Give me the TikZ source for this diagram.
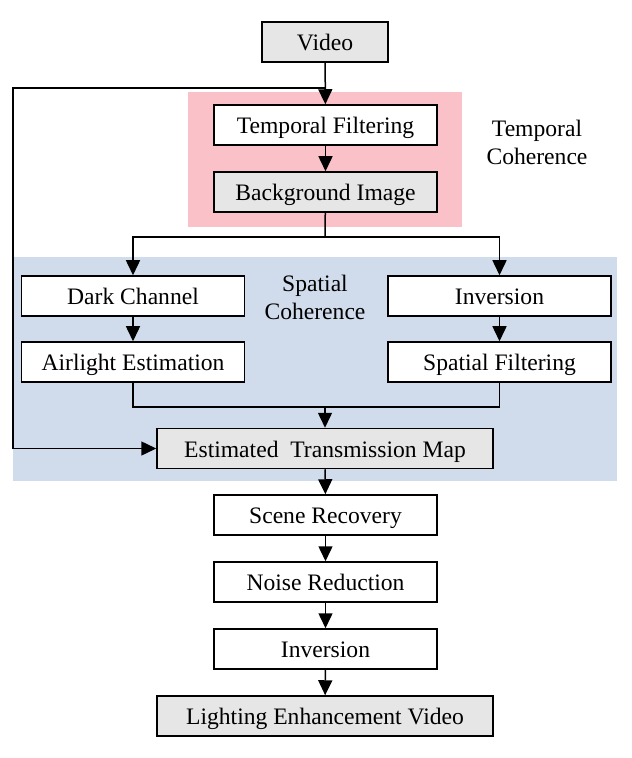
\documentclass[tikz,border=0pt]{standalone}
\usepackage{fontspec}
\setmainfont{Liberation Serif}
\usetikzlibrary{arrows.meta}
\definecolor{boxgray}{RGB}{230,230,230}
\definecolor{tcpink}{RGB}{251,193,201}
\definecolor{scblue}{RGB}{208,219,236}
\tikzset{
  stage/.style={draw, fill=white, line width=0.75pt, minimum width=111.5pt, minimum height=20pt, inner sep=0pt, text height=10.5pt, text depth=2pt, font=\fontsize{11.8}{14}\selectfont},
  widestage/.style={stage, minimum width=168pt},
  shaded/.style={fill=boxgray},
  link/.style={line width=0.75pt},
  flow/.style={link, -{Triangle[length=7.5pt,width=7pt]}},
  regionlabel/.style={align=center, font=\fontsize{11.8}{14}\selectfont}
}
\begin{document}
\begin{tikzpicture}[x=0.5pt, y=-0.5pt]
\useasboundingbox (0,0) rectangle (631,758);

\fill[tcpink] (188,92) rectangle (462,227);
\fill[scblue] (13,257) rectangle (617,481);
\node[regionlabel] (tclabel) at (537,142) {Temporal\\Coherence};
\node[regionlabel] (sclabel) at (315,297) {Spatial\\Coherence};

\node[stage, shaded, minimum width=63pt] (video) at (325,42) {Video};
\node[stage] (tfilter) at (325.5,125) {Temporal Filtering};
\node[stage, shaded] (bgimage) at (325.5,192) {Background Image};

\node[stage] (dark) at (133,296) {Dark Channel};
\node[stage] (airlight) at (133,362) {Airlight Estimation};
\node[stage] (invA) at (499.5,296) {Inversion};
\node[stage] (sfilter) at (499.5,362) {Spatial Filtering};

\node[widestage, shaded] (transmap) at (325,448.5) {Estimated\ \ Transmission Map};
\node[stage] (recovery) at (325.5,515) {Scene Recovery};
\node[stage] (noise) at (325.5,582) {Noise Reduction};
\node[stage] (invB) at (325.5,649) {Inversion};
\node[widestage, shaded] (result) at (325,716) {Lighting Enhancement Video};

\coordinate (split) at (325,88);
\coordinate (branch) at (325,237);
\coordinate (merge) at (325,407);

\draw[flow] (video) -- (tfilter);
\draw[flow] (tfilter) -- (bgimage);
\draw[link] (bgimage) -- (branch);
\draw[flow] (branch) -| (dark);
\draw[flow] (branch) -| (invA);
\draw[flow] (dark) -- (airlight);
\draw[flow] (invA) -- (sfilter);
\draw[link] (airlight) |- (merge);
\draw[link] (sfilter) |- (merge);
\draw[flow] (merge) -- (transmap);
\draw[flow] (split) -- (13,88) |- (transmap);
\draw[flow] (transmap) -- (recovery);
\draw[flow] (recovery) -- (noise);
\draw[flow] (noise) -- (invB);
\draw[flow] (invB) -- (result);

\end{tikzpicture}
\end{document}
